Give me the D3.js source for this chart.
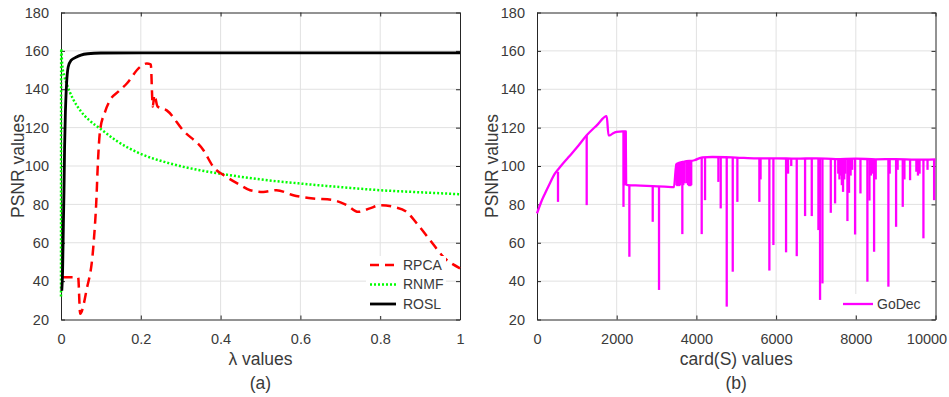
<!DOCTYPE html>
<html>
<head>
<meta charset="utf-8">
<script src="https://cdn.jsdelivr.net/npm/d3@7"></script>
<style>
  html, body { margin: 0; padding: 0; background: #fff; }
  svg { display: block; font-family: "Liberation Sans", Arial, Helvetica, sans-serif; }
</style>
</head>
<body>
<svg id="chart" width="949" height="397"></svg>
<script>
// ---- data ----
const psnrTicks = [20, 40, 60, 80, 100, 120, 140, 160, 180];
const lambdaTicks = [0, 0.2, 0.4, 0.6, 0.8, 1];
const cardTicks = [0, 2000, 4000, 6000, 8000, 10000];

// (a) PSNR vs lambda
const rpcaLambda = [0.004, 0.043, 0.048, 0.064, 0.081, 0.089, 0.092, 0.098, 0.11, 0.123, 0.145, 0.165, 0.198, 0.215, 0.225, 0.23, 0.234, 0.242, 0.265, 0.306, 0.357, 0.382, 0.415, 0.45, 0.474, 0.507, 0.54, 0.582, 0.632, 0.682, 0.716, 0.745, 0.774, 0.8, 0.833, 0.866, 0.892, 0.925, 0.958, 1];
const rpcaPsnr   = [42, 42, 23, 35.4, 57.9, 83.9, 99.5, 118.6, 128, 134.3, 139, 143, 151.6, 153.4, 153, 131, 137, 131, 129, 118.6, 108.2, 99.5, 94.3, 90, 87.4, 86.5, 87.4, 84.8, 83.1, 82.2, 79.6, 76.1, 77.9, 79.6, 78.7, 76.1, 70, 61.4, 52.7, 46.7];

const rnmfLambda = [0, 0.0005, 0.003, 0.008, 0.014, 0.03, 0.048, 0.07, 0.098, 0.14, 0.198, 0.27, 0.348, 0.424, 0.5, 0.598, 0.7, 0.799, 0.9, 1];
const rnmfPsnr   = [32, 161, 153, 147, 143, 135, 129, 124, 119.5, 113, 106.5, 101.5, 97.8, 95.2, 93, 90.9, 89, 87.4, 86.3, 85.3];

const roslLambda = [0.002, 0.004, 0.006, 0.0075, 0.009, 0.011, 0.012, 0.014, 0.018, 0.025, 0.039, 0.05, 0.067, 0.1, 0.2, 1];
const roslPsnr   = [35, 45, 70, 87, 110, 128, 134, 143, 151.6, 155, 156.8, 157.8, 158.5, 158.9, 159, 159];

// (b) PSNR vs card(S) -- GoDec envelope
const godecCard = [0, 100, 201, 300, 452, 600, 787, 1000, 1247, 1500, 1749, 1795, 1830, 1900, 2000, 2150, 2227, 2237, 2280, 2600, 2900, 3200, 3437, 3484, 3500, 3700, 3950, 4150, 4400, 5000, 5500, 6000, 6500, 7000, 7500, 8000, 8500, 9000, 9500, 10000];
const godecPsnr = [75.3, 81, 85.7, 90, 96.1, 100, 104.5, 109.6, 116, 121.2, 126, 116, 116, 117, 117.8, 118, 118, 90.5, 90, 89.8, 89.5, 89.3, 89, 99, 101, 102.3, 103, 104.5, 104.7, 104.4, 104, 104, 103.8, 104, 103.6, 103.8, 103.5, 103.6, 103.3, 103.5];

// GoDec downward spikes: [card, from, to]
const godecDips = [
  [527, 97, 81.3], [1247, 116, 79.6],
  [2170, 118, 78.7], [2185, 118, 90], [2200, 118, 90], [2215, 118, 90],
  [2318, 90, 52.7], [2904, 89.5, 70.9], [3062, 89.4, 35.4],
  [3500, 101, 90], [3520, 101, 89.5], [3545, 101.5, 90], [3570, 101.5, 89.5], [3600, 102, 90],
  [3625, 102, 91], [3647, 102, 64.5], [3670, 102, 90], [3700, 102.5, 91], [3750, 102.5, 91],
  [3790, 102.5, 90], [3820, 102.5, 89.5], [3850, 103, 89.5], [3870, 103, 90],
  [4133, 104.5, 64.5], [4217, 104.5, 82.2], [4552, 104.7, 91.7], [4610, 104.7, 77.9],
  [4761, 104.7, 26.7], [4912, 104.5, 44.9], [5028, 104.5, 81.3],
  [5580, 104, 81.3], [5610, 104, 93], [5831, 104, 45.5], [5932, 104, 58.8], [6250, 104, 55],
  [6300, 104, 96], [6380, 104, 100], [6518, 103.8, 53], [6727, 103.8, 73.9], [6895, 104, 73.9],
  [7062, 104, 66.6], [7103, 104, 30.2], [7163, 104, 38.8], [7372, 103.8, 75.6], [7480, 103.6, 80.5],
  [7560, 103.6, 96], [7590, 103.6, 93], [7620, 103.6, 95], [7650, 103.6, 90], [7680, 103.6, 86.5],
  [7710, 103.7, 93], [7740, 103.7, 96], [7790, 103.7, 71.3], [7830, 103.8, 86], [7870, 103.8, 95],
  [7910, 103.8, 98], [7982, 103.8, 64.3],
  [8117, 103.7, 85.7], [8291, 103.6, 39.7], [8342, 103.5, 82], [8380, 103.5, 95], [8420, 103.5, 96],
  [8459, 103.5, 55.3], [8500, 103.5, 93], [8818, 103.6, 37.1], [8850, 103.6, 96], [9011, 103.6, 68.3],
  [9050, 103.6, 98], [9178, 103.5, 78.7], [9220, 103.5, 93], [9362, 103.4, 92.6], [9520, 103.3, 97],
  [9560, 103.3, 95], [9600, 103.3, 96], [9697, 103.3, 62.3], [9800, 103.4, 98], [9965, 103.5, 82.2]
];

// ---- drawing ----
const svg = d3.select("#chart");
const axisColor = "#262626";
const textColor = "#3a3a3a";
const gridColor = "#e1e1e1";

function drawPanel(p) {
  const x = d3.scaleLinear().domain(p.xDomain).range([p.left, p.right]);
  const y = d3.scaleLinear().domain([20, 180]).range([319.5, 12.5]);
  const g = svg.append("g");

  // grid
  g.append("g").selectAll("line.vg")
    .data(p.xTicks.slice(1, -1))
    .join("line")
    .attr("x1", d => x(d)).attr("x2", d => x(d))
    .attr("y1", y(180)).attr("y2", y(20))
    .attr("stroke", gridColor).attr("stroke-width", 1);
  g.append("g").selectAll("line.hg")
    .data(psnrTicks.slice(1, -1))
    .join("line")
    .attr("x1", p.left).attr("x2", p.right)
    .attr("y1", d => y(d)).attr("y2", d => y(d))
    .attr("stroke", gridColor).attr("stroke-width", 1);

  // axes (ticks point inward, box on all sides)
  const bottom = g.append("g")
    .attr("transform", `translate(0,${y(20)})`)
    .call(d3.axisBottom(x).tickValues(p.xTicks).tickSize(-4).tickSizeOuter(0).tickPadding(16).tickFormat(p.xFormat));
  const left = g.append("g")
    .attr("transform", `translate(${p.left},0)`)
    .call(d3.axisLeft(y).tickValues(psnrTicks).tickSize(-4).tickSizeOuter(0).tickPadding(12));
  g.append("g")
    .attr("transform", `translate(0,${y(180)})`)
    .call(d3.axisTop(x).tickValues(p.xTicks).tickSize(-4).tickSizeOuter(0).tickFormat(""));
  g.append("g")
    .attr("transform", `translate(${p.right},0)`)
    .call(d3.axisRight(y).tickValues(psnrTicks).tickSize(-4).tickSizeOuter(0).tickFormat(""));

  g.selectAll(".domain").attr("stroke", axisColor);
  g.selectAll(".tick line").attr("stroke", axisColor);
  [bottom, left].forEach(a => a.selectAll("text")
    .attr("fill", textColor)
    .style("font-size", "14.5px")
    .style("font-family", "'Liberation Sans', Arial, sans-serif"));
  bottom.selectAll("text").attr("dy", "0.71em").attr("y", 14);
  if (p.lastLabelShift) {
    bottom.selectAll(".tick").filter(d => d === p.xTicks[p.xTicks.length - 1])
      .select("text").attr("dx", p.lastLabelShift);
  }

  // labels
  g.append("text")
    .attr("x", (p.left + p.right) / 2).attr("y", 365)
    .attr("text-anchor", "middle")
    .attr("fill", textColor)
    .style("font-size", "17.5px")
    .text(p.xLabel);
  g.append("text")
    .attr("x", (p.left + p.right) / 2).attr("y", 389)
    .attr("text-anchor", "middle")
    .attr("fill", textColor)
    .style("font-size", "17.5px")
    .text(p.caption);
  g.append("text")
    .attr("transform", `translate(${p.yLabelX},${(y(20) + y(180)) / 2}) rotate(-90)`)
    .attr("text-anchor", "middle")
    .attr("dy", "0.35em")
    .attr("fill", textColor)
    .style("font-size", "17.5px")
    .text("PSNR values");

  const plot = g.append("g");
  return { x, y, g, plot };
}

// ---- panel (a) ----
const a = drawPanel({
  left: 61, right: 460, xDomain: [0, 1], xTicks: lambdaTicks,
  xFormat: d => String(d), xLabel: "\u03bb values", caption: "(a)", yLabelX: 18
});

const lineA = d3.line().x(d => a.x(d[0])).y(d => a.y(d[1])).curve(d3.curveMonotoneX);

a.plot.append("path")
  .datum(d3.zip(rnmfLambda, rnmfPsnr))
  .attr("d", lineA)
  .attr("fill", "none").attr("stroke", "#00ff00").attr("stroke-width", 2.5)
  .attr("stroke-dasharray", "2,2");

a.plot.append("path")
  .datum(d3.zip(rpcaLambda, rpcaPsnr))
  .attr("d", lineA)
  .attr("fill", "none").attr("stroke", "#ff0000").attr("stroke-width", 2.5)
  .attr("stroke-dasharray", "10,6");

a.plot.append("path")
  .datum(d3.zip(roslLambda, roslPsnr))
  .attr("d", lineA)
  .attr("fill", "none").attr("stroke", "#000").attr("stroke-width", 2.8);

// legend (a)
const legA = a.g.append("g");
legA.append("rect").attr("x", 366).attr("y", 256).attr("width", 80).attr("height", 60).attr("fill", "#fff");
const legItems = [
  { name: "RPCA", color: "#ff0000", dash: "9,6", w: 2.5 },
  { name: "RNMF", color: "#00ff00", dash: "2,2", w: 2.5 },
  { name: "ROSL", color: "#000", dash: null, w: 2.8 }
];
legItems.forEach((it, i) => {
  const ly = 265 + i * 19.5;
  legA.append("line").attr("x1", 370).attr("x2", 396).attr("y1", ly).attr("y2", ly)
    .attr("stroke", it.color).attr("stroke-width", it.w)
    .attr("stroke-dasharray", it.dash);
  legA.append("text").attr("x", 403).attr("y", ly).attr("dy", "0.35em")
    .attr("fill", textColor).style("font-size", "14px").text(it.name);
});

// ---- panel (b) ----
const b = drawPanel({
  left: 537, right: 935.5, xDomain: [0, 10000], xTicks: cardTicks,
  xFormat: d => String(d), xLabel: "card(S) values", caption: "(b)", yLabelX: 492,
  lastLabelShift: -9
});

const lineB = d3.line().x(d => b.x(d[0])).y(d => b.y(d[1]));

b.plot.append("path")
  .datum(d3.zip(godecCard, godecPsnr))
  .attr("d", lineB.curve(d3.curveMonotoneX))
  .attr("fill", "none").attr("stroke", "#ff00ff").attr("stroke-width", 2.3)
  .attr("stroke-linejoin", "round");
lineB.curve(d3.curveLinear);

b.plot.append("g").selectAll("path")
  .data(godecDips)
  .join("path")
  .attr("d", d => lineB([[d[0], d[1]], [d[0], d[2]]]))
  .attr("fill", "none").attr("stroke", "#ff00ff").attr("stroke-width", 2.3);

// legend (b)
const legB = b.g.append("g");
legB.append("rect").attr("x", 839).attr("y", 294).attr("width", 86).attr("height", 21).attr("fill", "#fff");
legB.append("line").attr("x1", 843).attr("x2", 873).attr("y1", 304).attr("y2", 304)
  .attr("stroke", "#ff00ff").attr("stroke-width", 2.3);
legB.append("text").attr("x", 877).attr("y", 304).attr("dy", "0.35em")
  .attr("fill", textColor).style("font-size", "14px").text("GoDec");
</script>
</body>
</html>
